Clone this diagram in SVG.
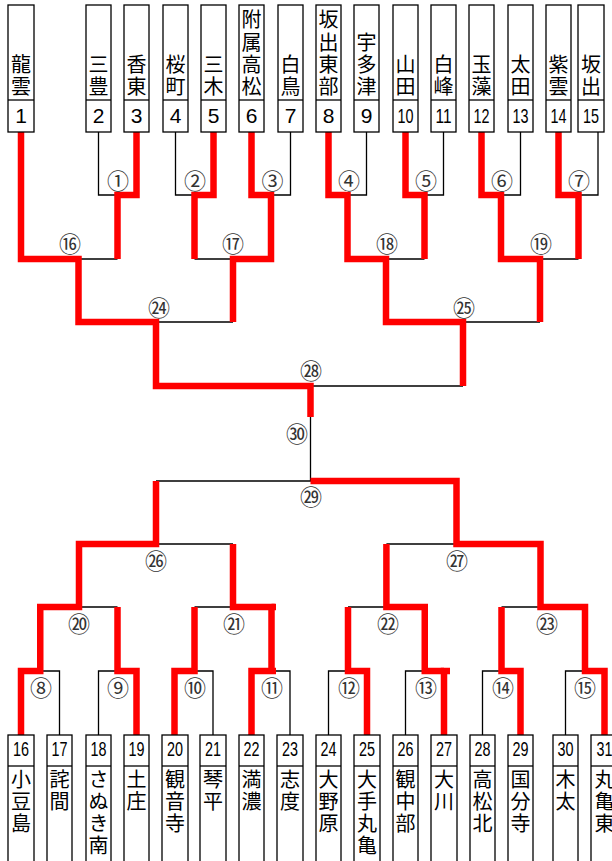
<svg xmlns="http://www.w3.org/2000/svg" width="612" height="861" viewBox="0 0 612 861">
<style>
.bx{fill:#fff;stroke:#000;stroke-width:1.3}
.k{fill:none;stroke:#000;stroke-width:1.3}
.r{fill:none;stroke:#f00;stroke-width:6.5;stroke-linejoin:miter;stroke-linecap:butt}
.nt{font-family:"Noto Sans CJK JP",sans-serif;font-size:20px;writing-mode:vertical-rl;text-orientation:upright;letter-spacing:2.2px;text-anchor:end;fill:#000}
.nd{font-family:"Noto Sans CJK JP",sans-serif;font-size:20px;writing-mode:vertical-rl;text-orientation:upright;letter-spacing:2px;text-anchor:start;fill:#000}
.no{font-family:"Liberation Sans",sans-serif;font-size:21px;text-anchor:middle;fill:#000}
.nb{font-family:"Liberation Sans",sans-serif;font-size:19.5px;text-anchor:middle;fill:#000}
.lb{font-family:"Noto Sans CJK JP",sans-serif;font-size:22px;text-anchor:middle;dominant-baseline:central;fill:#333}
</style>
<rect width="612" height="861" fill="#fff"/>
<g id="connectors">
<path class="k" d="M98.5,132V195H136.5V132 M175.5,132V195H213.5V132 M251.5,132V195H290.5V132 M328.5,132V195H366.5V132 M405.5,132V195H443.5V132 M481.5,132V195H520.5V132 M558.5,132V195H598V132 M117.5,195V259 M194.5,195V259 M271,195V259 M347.5,195V259 M424.5,195V259 M501,195V259 M578.5,195V259 M21,132V259H117.5 M194.5,259H271 M347.5,259H424.5 M501,259H578.5 M78.5,259V322 M233,259V322 M386,259V322 M540,259V322 M78.5,322H233 M386,322H540 M156,322V386 M463,322V386 M156,386H463 M310.5,386V481"/>
<path class="k" d="M156,481H456.5 M156,481V544 M456.5,481V544 M79,544H233 M386.4,544H540.5 M79,544V607 M233,544V607 M386.4,544V607 M540.5,544V607 M40.25,607H117.5 M194.5,607H271.5 M348,607H424.75 M501.5,607H585 M40.25,607V671 M117.5,607V671 M194.5,607V671 M271.5,607V671 M348,607V671 M424.75,607V671 M501.5,607V671 M585,607V671 M21,735V671H59.5V735 M98.5,735V671H136.5V735 M174.5,735V671H213V735 M251.5,735V671H290V735 M328.5,735V671H367V735 M405.5,735V671H444V735 M482.5,735V671H520.5V735 M565.5,735V671H604.5V735"/>
<polyline class="r" points="21,132 21,259 78.5,259 78.5,322 156,322 156,386 310.5,386 310.5,417"/>
<polyline class="r" points="136.5,132 136.5,195 117.5,195 117.5,259"/>
<polyline class="r" points="213.5,132 213.5,195 194.5,195 194.5,259"/>
<polyline class="r" points="251.5,132 251.5,195 271,195 271,259 233,259 233,322"/>
<polyline class="r" points="328.5,132 328.5,195 347.5,195 347.5,259 386,259 386,322 463,322 463,386"/>
<polyline class="r" points="405.5,132 405.5,195 424.5,195 424.5,259"/>
<polyline class="r" points="481.5,132 481.5,195 501,195 501,259 540,259 540,322"/>
<polyline class="r" points="558.5,132 558.5,195 578.5,195 578.5,259"/>
<polyline class="r" points="21,735 21,671 40.25,671 40.25,607 79,607 79,544 156,544 156,481"/>
<polyline class="r" points="136.5,735 136.5,671 117.5,671 117.5,607"/>
<polyline class="r" points="174.5,735 174.5,671 194.5,671 194.5,607"/>
<polyline class="r" points="251.5,735 251.5,671 276,671"/>
<polyline class="r" points="271.5,671 271.5,607 233,607 233,544"/>
<polyline class="r" points="271.5,607 276,607"/>
<polyline class="r" points="367,735 367,671 348,671 348,607"/>
<polyline class="r" points="444,735 444,671 450,671"/>
<polyline class="r" points="444,671 424.75,671 424.75,607 386.4,607 386.4,544"/>
<polyline class="r" points="520.5,735 520.5,671 501.5,671 501.5,607"/>
<polyline class="r" points="604.5,735 604.5,671 585,671 585,607 540.5,607 540.5,544 456.5,544 456.5,481 310.5,481"/>
</g>
<g id="labels">
<text class="lb" x="118" y="179">①</text>
<text class="lb" x="195" y="179">②</text>
<text class="lb" x="272.5" y="179">③</text>
<text class="lb" x="349" y="179">④</text>
<text class="lb" x="426" y="179">⑤</text>
<text class="lb" x="502" y="179">⑥</text>
<text class="lb" x="579" y="179">⑦</text>
<text class="lb" x="70" y="242">⑯</text>
<text class="lb" x="233" y="242">⑰</text>
<text class="lb" x="387" y="242">⑱</text>
<text class="lb" x="541" y="242">⑲</text>
<text class="lb" x="159" y="306">㉔</text>
<text class="lb" x="464" y="306">㉕</text>
<text class="lb" x="311" y="369">㉘</text>
<text class="lb" x="297" y="432">㉚</text>
<text class="lb" x="311" y="495">㉙</text>
<text class="lb" x="156" y="559">㉖</text>
<text class="lb" x="457" y="559">㉗</text>
<text class="lb" x="79" y="622">⑳</text>
<text class="lb" x="234" y="622">㉑</text>
<text class="lb" x="388" y="622">㉒</text>
<text class="lb" x="547" y="622">㉓</text>
<text class="lb" x="41" y="686">⑧</text>
<text class="lb" x="118" y="686">⑨</text>
<text class="lb" x="195" y="686">⑩</text>
<text class="lb" x="272" y="686">⑪</text>
<text class="lb" x="349" y="686">⑫</text>
<text class="lb" x="426" y="686">⑬</text>
<text class="lb" x="503" y="686">⑭</text>
<text class="lb" x="585" y="686">⑮</text>
</g>
<g id="t1"><rect class="bx" x="8" y="5" width="26" height="127"/><line class="k" x1="8" y1="100" x2="34" y2="100"/><text class="nt" x="21" y="98.7">龍雲</text><text class="no" x="21" y="123">1</text></g>
<g id="t2"><rect class="bx" x="86" y="5" width="25" height="127"/><line class="k" x1="86" y1="100" x2="111" y2="100"/><text class="nt" x="98.5" y="98.7">三豊</text><text class="no" x="98.5" y="123">2</text></g>
<g id="t3"><rect class="bx" x="124" y="5" width="25" height="127"/><line class="k" x1="124" y1="100" x2="149" y2="100"/><text class="nt" x="136.5" y="98.7">香東</text><text class="no" x="136.5" y="123">3</text></g>
<g id="t4"><rect class="bx" x="163" y="5" width="25" height="127"/><line class="k" x1="163" y1="100" x2="188" y2="100"/><text class="nt" x="175.5" y="98.7">桜町</text><text class="no" x="175.5" y="123">4</text></g>
<g id="t5"><rect class="bx" x="201" y="5" width="25" height="127"/><line class="k" x1="201" y1="100" x2="226" y2="100"/><text class="nt" x="213.5" y="98.7">三木</text><text class="no" x="213.5" y="123">5</text></g>
<g id="t6"><rect class="bx" x="239" y="5" width="25" height="127"/><line class="k" x1="239" y1="100" x2="264" y2="100"/><text class="nt" x="251.5" y="98.7">附属高松</text><text class="no" x="251.5" y="123">6</text></g>
<g id="t7"><rect class="bx" x="278" y="5" width="25" height="127"/><line class="k" x1="278" y1="100" x2="303" y2="100"/><text class="nt" x="290.5" y="98.7">白鳥</text><text class="no" x="290.5" y="123">7</text></g>
<g id="t8"><rect class="bx" x="316" y="5" width="25" height="127"/><line class="k" x1="316" y1="100" x2="341" y2="100"/><text class="nt" x="328.5" y="98.7">坂出東部</text><text class="no" x="328.5" y="123">8</text></g>
<g id="t9"><rect class="bx" x="354" y="5" width="25" height="127"/><line class="k" x1="354" y1="100" x2="379" y2="100"/><text class="nt" x="366.5" y="98.7">宇多津</text><text class="no" x="366.5" y="123">9</text></g>
<g id="t10"><rect class="bx" x="393" y="5" width="25" height="127"/><line class="k" x1="393" y1="100" x2="418" y2="100"/><text class="nt" x="405.5" y="98.7">山田</text><text class="no" x="405.5" y="123" textLength="16" lengthAdjust="spacingAndGlyphs">10</text></g>
<g id="t11"><rect class="bx" x="431" y="5" width="25" height="127"/><line class="k" x1="431" y1="100" x2="456" y2="100"/><text class="nt" x="443.5" y="98.7">白峰</text><text class="no" x="443.5" y="123" textLength="16" lengthAdjust="spacingAndGlyphs">11</text></g>
<g id="t12"><rect class="bx" x="469" y="5" width="25" height="127"/><line class="k" x1="469" y1="100" x2="494" y2="100"/><text class="nt" x="481.5" y="98.7">玉藻</text><text class="no" x="481.5" y="123" textLength="16" lengthAdjust="spacingAndGlyphs">12</text></g>
<g id="t13"><rect class="bx" x="508" y="5" width="25" height="127"/><line class="k" x1="508" y1="100" x2="533" y2="100"/><text class="nt" x="520.5" y="98.7">太田</text><text class="no" x="520.5" y="123" textLength="16" lengthAdjust="spacingAndGlyphs">13</text></g>
<g id="t14"><rect class="bx" x="546" y="5" width="25" height="127"/><line class="k" x1="546" y1="100" x2="571" y2="100"/><text class="nt" x="558.5" y="98.7">紫雲</text><text class="no" x="558.5" y="123" textLength="16" lengthAdjust="spacingAndGlyphs">14</text></g>
<g id="t15"><rect class="bx" x="578" y="5" width="26" height="127"/><line class="k" x1="578" y1="100" x2="604" y2="100"/><text class="nt" x="591" y="98.7">坂出</text><text class="no" x="591" y="123" textLength="16" lengthAdjust="spacingAndGlyphs">15</text></g>
<g id="t16"><rect class="bx" x="8" y="735" width="26" height="130"/><line class="k" x1="8" y1="766" x2="34" y2="766"/><text class="nb" x="21" y="755.5" textLength="16" lengthAdjust="spacingAndGlyphs">16</text><text class="nd" x="21" y="769.5">小豆島</text></g>
<g id="t17"><rect class="bx" x="47" y="735" width="25" height="130"/><line class="k" x1="47" y1="766" x2="72" y2="766"/><text class="nb" x="59.5" y="755.5" textLength="16" lengthAdjust="spacingAndGlyphs">17</text><text class="nd" x="59.5" y="769.5">詫間</text></g>
<g id="t18"><rect class="bx" x="86" y="735" width="25" height="130"/><line class="k" x1="86" y1="766" x2="111" y2="766"/><text class="nb" x="98.5" y="755.5" textLength="16" lengthAdjust="spacingAndGlyphs">18</text><text class="nd" x="98.5" y="769.5">さぬき南</text></g>
<g id="t19"><rect class="bx" x="124" y="735" width="25" height="130"/><line class="k" x1="124" y1="766" x2="149" y2="766"/><text class="nb" x="136.5" y="755.5" textLength="16" lengthAdjust="spacingAndGlyphs">19</text><text class="nd" x="136.5" y="769.5">土庄</text></g>
<g id="t20"><rect class="bx" x="162" y="735" width="26" height="130"/><line class="k" x1="162" y1="766" x2="188" y2="766"/><text class="nb" x="175" y="755.5" textLength="16" lengthAdjust="spacingAndGlyphs">20</text><text class="nd" x="175" y="769.5">観音寺</text></g>
<g id="t21"><rect class="bx" x="200" y="735" width="26" height="130"/><line class="k" x1="200" y1="766" x2="226" y2="766"/><text class="nb" x="213" y="755.5" textLength="16" lengthAdjust="spacingAndGlyphs">21</text><text class="nd" x="213" y="769.5">琴平</text></g>
<g id="t22"><rect class="bx" x="239" y="735" width="25" height="130"/><line class="k" x1="239" y1="766" x2="264" y2="766"/><text class="nb" x="251.5" y="755.5" textLength="16" lengthAdjust="spacingAndGlyphs">22</text><text class="nd" x="251.5" y="769.5">満濃</text></g>
<g id="t23"><rect class="bx" x="277" y="735" width="26" height="130"/><line class="k" x1="277" y1="766" x2="303" y2="766"/><text class="nb" x="290" y="755.5" textLength="16" lengthAdjust="spacingAndGlyphs">23</text><text class="nd" x="290" y="769.5">志度</text></g>
<g id="t24"><rect class="bx" x="316" y="735" width="25" height="130"/><line class="k" x1="316" y1="766" x2="341" y2="766"/><text class="nb" x="328.5" y="755.5" textLength="16" lengthAdjust="spacingAndGlyphs">24</text><text class="nd" x="328.5" y="769.5">大野原</text></g>
<g id="t25"><rect class="bx" x="354" y="735" width="26" height="130"/><line class="k" x1="354" y1="766" x2="380" y2="766"/><text class="nb" x="367" y="755.5" textLength="16" lengthAdjust="spacingAndGlyphs">25</text><text class="nd" x="367" y="769.5">大手丸亀</text></g>
<g id="t26"><rect class="bx" x="393" y="735" width="25" height="130"/><line class="k" x1="393" y1="766" x2="418" y2="766"/><text class="nb" x="405.5" y="755.5" textLength="16" lengthAdjust="spacingAndGlyphs">26</text><text class="nd" x="405.5" y="769.5">観中部</text></g>
<g id="t27"><rect class="bx" x="431" y="735" width="26" height="130"/><line class="k" x1="431" y1="766" x2="457" y2="766"/><text class="nb" x="444" y="755.5" textLength="16" lengthAdjust="spacingAndGlyphs">27</text><text class="nd" x="444" y="769.5">大川</text></g>
<g id="t28"><rect class="bx" x="470" y="735" width="25" height="130"/><line class="k" x1="470" y1="766" x2="495" y2="766"/><text class="nb" x="482.5" y="755.5" textLength="16" lengthAdjust="spacingAndGlyphs">28</text><text class="nd" x="482.5" y="769.5">高松北</text></g>
<g id="t29"><rect class="bx" x="508" y="735" width="25" height="130"/><line class="k" x1="508" y1="766" x2="533" y2="766"/><text class="nb" x="520.5" y="755.5" textLength="16" lengthAdjust="spacingAndGlyphs">29</text><text class="nd" x="520.5" y="769.5">国分寺</text></g>
<g id="t30"><rect class="bx" x="553" y="735" width="25" height="130"/><line class="k" x1="553" y1="766" x2="578" y2="766"/><text class="nb" x="565.5" y="755.5" textLength="16" lengthAdjust="spacingAndGlyphs">30</text><text class="nd" x="565.5" y="769.5">木太</text></g>
<g id="t31"><rect class="bx" x="591" y="735" width="26" height="130"/><line class="k" x1="591" y1="766" x2="617" y2="766"/><text class="nb" x="604.5" y="755.5" textLength="16" lengthAdjust="spacingAndGlyphs">31</text><text class="nd" x="604.5" y="769.5">丸亀東</text></g>
</svg>
